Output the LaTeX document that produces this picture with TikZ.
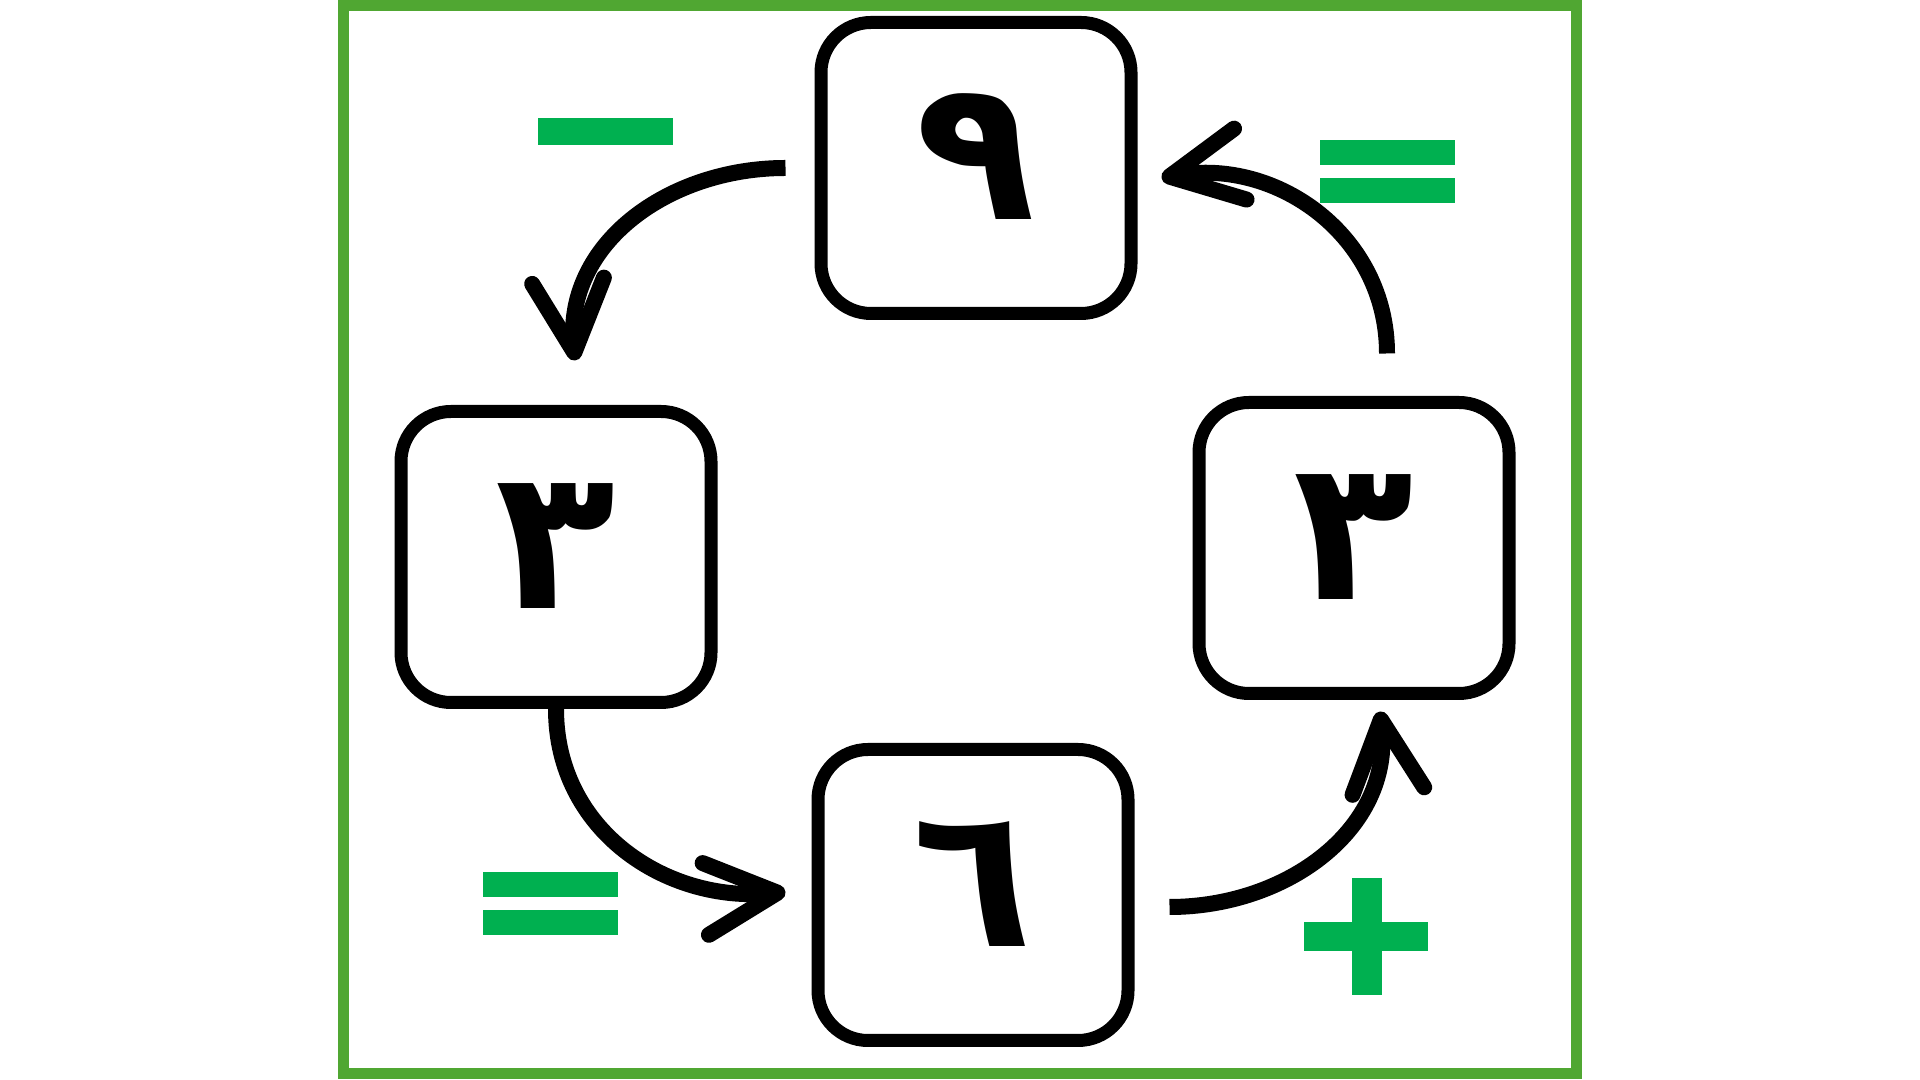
\documentclass[tikz,border=0pt]{standalone}
\usepackage{fontspec}
\newfontfamily\arabicfont[Script=Arabic]{DejaVu Sans}
\TeXXeTstate=1
\usetikzlibrary{arrows.meta,shapes}
\definecolor{framegreen}{RGB}{80,167,50}
\definecolor{signgreen}{RGB}{0,176,80}

\begin{document}
\begin{tikzpicture}[looseness=1.05,line width=.16cm,
    box/.style={draw,rounded corners=.5cm,line width=.13cm,minimum width=3.1cm,minimum height=2.91cm,
      inner sep=0pt,text depth=.22cm,font=\arabicfont\bfseries\fontsize{56}{66}\selectfont},
    conn/.style={-{Straight Barb[length=.72cm,width=.72cm,round]}},
    sign/.style={fill=signgreen}]

        \useasboundingbox (0,0) rectangle (19.2,10.8);
        \draw[framegreen,line width=.11cm] (3.43,.065) rectangle (15.76,10.745);

        \node[box] (nine) at (9.76,9.12) {\beginR ٩\endR};
        \node[box] (threeL) at (5.56,5.23) {\beginR ٣\endR};
        \node[box] (threeR) at (13.54,5.32) {\beginR ٣\endR};
        \node[box] (six) at (9.73,1.85) {\beginR ٦\endR};

        \draw[conn] ([xshift=-.29cm]nine.west) to[out=180,in=95] ([xshift=.19cm,yshift=.445cm]threeL.north);
        \draw[conn] (threeL.south) to[out=-90,in=185] ([xshift=-.26cm,yshift=.03cm]six.west);
        \draw[conn] ([xshift=.35cm,yshift=-.12cm]six.east) to[out=0,in=-84] ([xshift=.26cm,yshift=-.115cm]threeR.south);
        \draw[conn] ([xshift=.33cm,yshift=.425cm]threeR.north) to[out=90,in=10] ([xshift=.24cm,yshift=-.1cm]nine.east);

        % minus
        \fill[sign] (5.38,9.35) rectangle (6.73,9.62);
        % equals
        \fill[sign] (13.20,9.15) rectangle (14.55,9.40);
        \fill[sign] (13.20,8.77) rectangle (14.55,9.02);
        \fill[sign] (4.83,1.83) rectangle (6.18,2.08);
        \fill[sign] (4.83,1.45) rectangle (6.18,1.70);
        % plus
        \fill[sign] (13.04,1.29) rectangle (14.28,1.58);
        \fill[sign] (13.52,.85) rectangle (13.82,2.02);

      \end{tikzpicture}
\end{document}
